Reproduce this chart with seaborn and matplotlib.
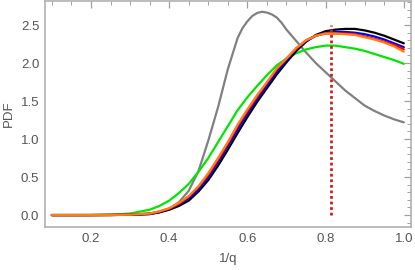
import pandas as pd
import matplotlib
matplotlib.use("Agg")
import matplotlib.pyplot as plt
from matplotlib.ticker import MultipleLocator
import seaborn as sns

# Values
q_inv = [0.10, 0.15, 0.20, 0.25, 0.30, 0.35, 0.375, 0.40, 0.425, 0.45, 0.475, 0.50,
         0.525, 0.55, 0.575, 0.60, 0.625, 0.65, 0.675, 0.70, 0.725, 0.75, 0.775, 0.80,
         0.825, 0.85, 0.875, 0.90, 0.925, 0.95, 0.975, 1.0]

# the gray curve has a sharp peak, so it was read on a finer grid
q_inv_gray = [0.10, 0.15, 0.20, 0.25, 0.30, 0.35, 0.375, 0.40, 0.425, 0.45, 0.475, 0.50,
              0.525, 0.55, 0.575, 0.5875, 0.60, 0.6125, 0.625, 0.6375, 0.65, 0.6625,
              0.675, 0.6875, 0.70, 0.725, 0.75, 0.775, 0.80, 0.825, 0.85, 0.875, 0.90,
              0.925, 0.95, 0.975, 1.0]
gray = [0, 0, 0, 0.001, 0.004, 0.02, 0.04, 0.08, 0.17, 0.32, 0.58, 0.98,
        1.42, 1.92, 2.33, 2.46, 2.55, 2.62, 2.66, 2.675, 2.665, 2.64, 2.60, 2.53,
        2.44, 2.29, 2.14, 2.00, 1.88, 1.76, 1.64, 1.54, 1.44, 1.37, 1.31, 1.26, 1.22]
green = [0, 0, 0.001, 0.005, 0.02, 0.07, 0.12, 0.19, 0.29, 0.41, 0.57, 0.75,
         0.96, 1.17, 1.38, 1.55, 1.70, 1.84, 1.97, 2.06, 2.13, 2.18, 2.21, 2.23,
         2.23, 2.21, 2.19, 2.16, 2.12, 2.08, 2.04, 1.99]
black = [0, 0, 0, 0.001, 0.003, 0.012, 0.035, 0.07, 0.12, 0.19, 0.31, 0.46,
         0.65, 0.86, 1.08, 1.29, 1.49, 1.67, 1.85, 2.01, 2.16, 2.28, 2.37, 2.42,
         2.44, 2.45, 2.45, 2.43, 2.40, 2.36, 2.31, 2.26]
blue = [0, 0, 0, 0.001, 0.004, 0.015, 0.04, 0.08, 0.14, 0.22, 0.34, 0.50,
        0.70, 0.91, 1.13, 1.34, 1.53, 1.71, 1.89, 2.04, 2.18, 2.29, 2.36, 2.40,
        2.41, 2.41, 2.40, 2.38, 2.35, 2.31, 2.26, 2.21]
red = [0, 0, 0, 0.001, 0.005, 0.02, 0.045, 0.085, 0.15, 0.24, 0.37, 0.53,
       0.73, 0.94, 1.17, 1.37, 1.56, 1.74, 1.92, 2.06, 2.19, 2.30, 2.36, 2.39,
       2.39, 2.39, 2.38, 2.35, 2.32, 2.28, 2.24, 2.18]
orange = [0, 0, 0, 0.001, 0.005, 0.02, 0.05, 0.09, 0.16, 0.25, 0.38, 0.55,
          0.75, 0.96, 1.19, 1.39, 1.58, 1.75, 1.93, 2.06, 2.20, 2.30, 2.36, 2.39,
          2.39, 2.38, 2.37, 2.34, 2.31, 2.27, 2.22, 2.15]

q_mark = 0.813
mark_top = 2.5

series = {"gray": (q_inv_gray, gray), "green": (q_inv, green), "black": (q_inv, black),
          "blue": (q_inv, blue), "red": (q_inv, red), "orange": (q_inv, orange)}
colors = {"gray": "#808080", "green": "#00e600", "black": "#000000",
          "blue": "#0000ff", "red": "#ff0000", "orange": "#ff7f0e"}

df = pd.concat([pd.DataFrame({"q": x, "pdf": y, "curve": k}) for k, (x, y) in series.items()])

sns.set_style("white")
plt.rcParams['font.family'] = ['Liberation Sans', 'DejaVu Sans']

fig = plt.figure(figsize=(4.15, 2.7), dpi=100)
ax = fig.add_axes([0.108, 0.159, 0.882, 0.837])

sns.lineplot(data=df, x="q", y="pdf", hue="curve", hue_order=list(series.keys()),
             palette=colors, estimator=None, linewidth=1.6, legend=False, ax=ax)
for ln in ax.lines:
    ln.set_solid_joinstyle("round")

ax.vlines(q_mark, 0, mark_top, colors="#cc1f1f", linestyles=(0, (1, 1)), linewidth=2)

ax.set_xlim(0.082, 1.018)
ax.set_ylim(-0.158, 2.816)
ax.xaxis.set_major_locator(MultipleLocator(0.2))
ax.xaxis.set_minor_locator(MultipleLocator(0.05))
ax.yaxis.set_major_locator(MultipleLocator(0.5))
ax.yaxis.set_minor_locator(MultipleLocator(0.1))
ax.tick_params(which="both", direction="in", top=True, right=True,
               color="#a0a0a0", labelcolor="#555555", labelsize=9.5, pad=4)
ax.tick_params(which="major", length=5, width=0.9)
ax.tick_params(which="minor", length=3, width=0.7)
for s in ax.spines.values():
    s.set_color("#b0b0b0")
    s.set_linewidth(1.2)

ax.set_xlabel("1/q", color="#555555", fontsize=9.5, labelpad=6)
ax.set_ylabel("PDF", color="#555555", fontsize=9.5, labelpad=4)

fig.savefig("out.png", dpi=100)
